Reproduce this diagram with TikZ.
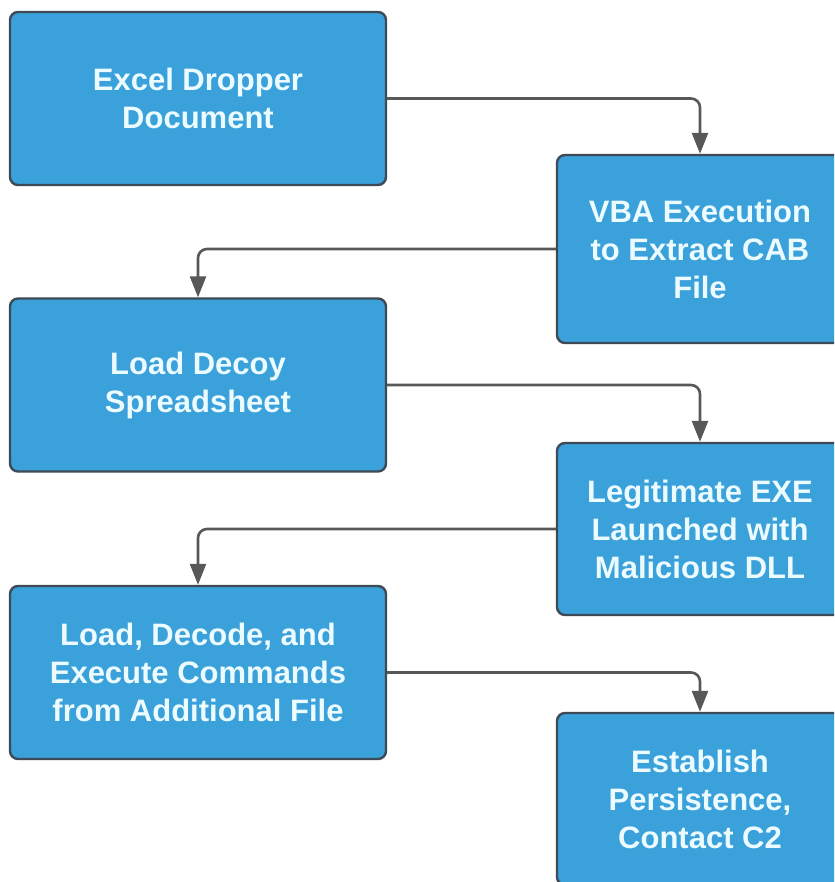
\documentclass[tikz,border=0pt]{standalone}
\usepackage{fontspec}
\setmainfont{Liberation Sans}
\usepackage{xcolor}
\usetikzlibrary{arrows.meta}

\definecolor{boxblue}{HTML}{3AA1DB}
\definecolor{boxedge}{HTML}{3E4A55}
\definecolor{boxtext}{HTML}{ECFBFF}
\definecolor{flowgray}{HTML}{585858}

\begin{document}
\begin{tikzpicture}[x=1pt, y=-1pt,
    stage/.style={shape=rectangle, rounded corners=8pt, draw=boxedge, line width=2.4pt,
      fill=boxblue, text=boxtext, align=center, inner sep=0pt,
      minimum width=376pt, minimum height=173pt,
      font=\fontsize{31}{38}\selectfont\bfseries},
    wide/.style={minimum width=286pt, minimum height=172pt},
    flow/.style={draw=flowgray, line width=2.6pt, rounded corners=9pt,
      -{Triangle[width=16pt,length=21pt]}}]
    \useasboundingbox (0,0) rectangle (834,882);
    \clip (0,0) rectangle (834,882);

    % left column
    \node[stage] (excel) at (198,98.5) {Excel Dropper\\Document};
    \node[stage] (decoy) at (198,385) {Load Decoy\\Spreadsheet};
    \node[stage] (exec) at (198,672.5) {Load, Decode, and\\Execute Commands\\from Additional File};

    % right column
    \node[stage,wide,minimum height=188pt] (vba) at (700,249) {VBA Execution\\to Extract CAB\\File};
    \node[stage,wide] (legit) at (700,529) {Legitimate EXE\\Launched with\\Malicious DLL};
    \node[stage,wide] (persist) at (700,799) {Establish\\Persistence,\\Contact C2};

    \draw[flow] (excel.east) -| (vba.north);
    \draw[flow] (vba.west) -| (decoy.north);
    \draw[flow] (decoy.east) -| (legit.north);
    \draw[flow] (legit.west) -| (exec.north);
    \draw[flow] (exec.east) -| (persist.north);
  \end{tikzpicture}
\end{document}
